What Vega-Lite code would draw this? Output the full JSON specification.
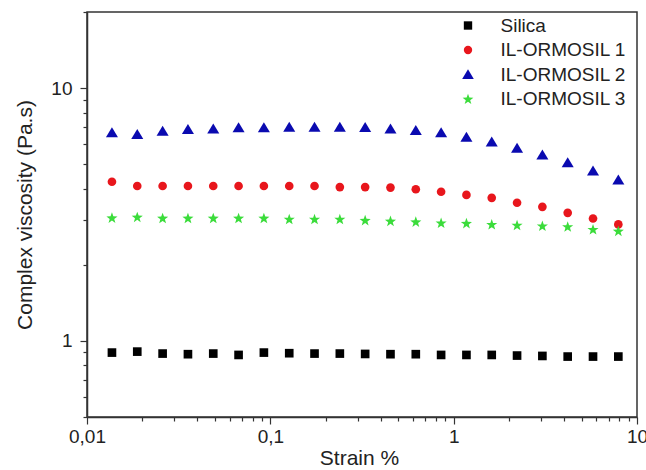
{
  "$schema": "https://vega.github.io/schema/vega-lite/v6.json",
  "width": 550,
  "height": 405,
  "autosize": {"type": "none"},
  "padding": {"left": 87, "top": 12, "right": 9, "bottom": 53},
  "background": "white",
  "config": {
    "font": "Liberation Sans",
    "view": {"stroke": "#333", "strokeWidth": 1.5},
    "axis": {
      "domainColor": "#333", "domainWidth": 1.5,
      "tickColor": "#333", "tickWidth": 1.2,
      "labelFont": "Liberation Sans", "labelFontSize": 19, "labelColor": "#222",
      "titleFont": "Liberation Sans", "titleFontSize": 21, "titleFontWeight": "normal", "titleColor": "#222",
      "grid": false
    }
  },
  "data": {"values": [
    {"strain": 0.01368, "viscosity": 0.899, "sample": "Silica"},
    {"strain": 0.0188, "viscosity": 0.907, "sample": "Silica"},
    {"strain": 0.02585, "viscosity": 0.891, "sample": "Silica"},
    {"strain": 0.03553, "viscosity": 0.886, "sample": "Silica"},
    {"strain": 0.04883, "viscosity": 0.891, "sample": "Silica"},
    {"strain": 0.06711, "viscosity": 0.880, "sample": "Silica"},
    {"strain": 0.09222, "viscosity": 0.899, "sample": "Silica"},
    {"strain": 0.1268, "viscosity": 0.894, "sample": "Silica"},
    {"strain": 0.1742, "viscosity": 0.891, "sample": "Silica"},
    {"strain": 0.2394, "viscosity": 0.891, "sample": "Silica"},
    {"strain": 0.329, "viscosity": 0.888, "sample": "Silica"},
    {"strain": 0.4522, "viscosity": 0.886, "sample": "Silica"},
    {"strain": 0.6215, "viscosity": 0.886, "sample": "Silica"},
    {"strain": 0.8541, "viscosity": 0.880, "sample": "Silica"},
    {"strain": 1.174, "viscosity": 0.880, "sample": "Silica"},
    {"strain": 1.613, "viscosity": 0.880, "sample": "Silica"},
    {"strain": 2.217, "viscosity": 0.875, "sample": "Silica"},
    {"strain": 3.047, "viscosity": 0.872, "sample": "Silica"},
    {"strain": 4.188, "viscosity": 0.867, "sample": "Silica"},
    {"strain": 5.756, "viscosity": 0.867, "sample": "Silica"},
    {"strain": 7.91, "viscosity": 0.867, "sample": "Silica"},
    {"strain": 0.01368, "viscosity": 4.26, "sample": "IL-ORMOSIL 1"},
    {"strain": 0.0188, "viscosity": 4.10, "sample": "IL-ORMOSIL 1"},
    {"strain": 0.02585, "viscosity": 4.10, "sample": "IL-ORMOSIL 1"},
    {"strain": 0.03553, "viscosity": 4.10, "sample": "IL-ORMOSIL 1"},
    {"strain": 0.04883, "viscosity": 4.10, "sample": "IL-ORMOSIL 1"},
    {"strain": 0.06711, "viscosity": 4.10, "sample": "IL-ORMOSIL 1"},
    {"strain": 0.09222, "viscosity": 4.10, "sample": "IL-ORMOSIL 1"},
    {"strain": 0.1268, "viscosity": 4.10, "sample": "IL-ORMOSIL 1"},
    {"strain": 0.1742, "viscosity": 4.10, "sample": "IL-ORMOSIL 1"},
    {"strain": 0.2394, "viscosity": 4.06, "sample": "IL-ORMOSIL 1"},
    {"strain": 0.329, "viscosity": 4.06, "sample": "IL-ORMOSIL 1"},
    {"strain": 0.4522, "viscosity": 4.04, "sample": "IL-ORMOSIL 1"},
    {"strain": 0.6215, "viscosity": 3.98, "sample": "IL-ORMOSIL 1"},
    {"strain": 0.8541, "viscosity": 3.89, "sample": "IL-ORMOSIL 1"},
    {"strain": 1.174, "viscosity": 3.78, "sample": "IL-ORMOSIL 1"},
    {"strain": 1.613, "viscosity": 3.68, "sample": "IL-ORMOSIL 1"},
    {"strain": 2.217, "viscosity": 3.52, "sample": "IL-ORMOSIL 1"},
    {"strain": 3.047, "viscosity": 3.39, "sample": "IL-ORMOSIL 1"},
    {"strain": 4.188, "viscosity": 3.21, "sample": "IL-ORMOSIL 1"},
    {"strain": 5.756, "viscosity": 3.05, "sample": "IL-ORMOSIL 1"},
    {"strain": 7.91, "viscosity": 2.89, "sample": "IL-ORMOSIL 1"},
    {"strain": 0.01368, "viscosity": 6.66, "sample": "IL-ORMOSIL 2"},
    {"strain": 0.0188, "viscosity": 6.56, "sample": "IL-ORMOSIL 2"},
    {"strain": 0.02585, "viscosity": 6.76, "sample": "IL-ORMOSIL 2"},
    {"strain": 0.03553, "viscosity": 6.87, "sample": "IL-ORMOSIL 2"},
    {"strain": 0.04883, "viscosity": 6.90, "sample": "IL-ORMOSIL 2"},
    {"strain": 0.06711, "viscosity": 6.97, "sample": "IL-ORMOSIL 2"},
    {"strain": 0.09222, "viscosity": 6.97, "sample": "IL-ORMOSIL 2"},
    {"strain": 0.1268, "viscosity": 7.01, "sample": "IL-ORMOSIL 2"},
    {"strain": 0.1742, "viscosity": 7.01, "sample": "IL-ORMOSIL 2"},
    {"strain": 0.2394, "viscosity": 7.01, "sample": "IL-ORMOSIL 2"},
    {"strain": 0.329, "viscosity": 6.99, "sample": "IL-ORMOSIL 2"},
    {"strain": 0.4522, "viscosity": 6.90, "sample": "IL-ORMOSIL 2"},
    {"strain": 0.6215, "viscosity": 6.80, "sample": "IL-ORMOSIL 2"},
    {"strain": 0.8541, "viscosity": 6.66, "sample": "IL-ORMOSIL 2"},
    {"strain": 1.174, "viscosity": 6.40, "sample": "IL-ORMOSIL 2"},
    {"strain": 1.613, "viscosity": 6.13, "sample": "IL-ORMOSIL 2"},
    {"strain": 2.217, "viscosity": 5.78, "sample": "IL-ORMOSIL 2"},
    {"strain": 3.047, "viscosity": 5.44, "sample": "IL-ORMOSIL 2"},
    {"strain": 4.188, "viscosity": 5.07, "sample": "IL-ORMOSIL 2"},
    {"strain": 5.756, "viscosity": 4.70, "sample": "IL-ORMOSIL 2"},
    {"strain": 7.91, "viscosity": 4.33, "sample": "IL-ORMOSIL 2"},
    {"strain": 0.01368, "viscosity": 3.07, "sample": "IL-ORMOSIL 3"},
    {"strain": 0.0188, "viscosity": 3.09, "sample": "IL-ORMOSIL 3"},
    {"strain": 0.02585, "viscosity": 3.06, "sample": "IL-ORMOSIL 3"},
    {"strain": 0.03553, "viscosity": 3.06, "sample": "IL-ORMOSIL 3"},
    {"strain": 0.04883, "viscosity": 3.06, "sample": "IL-ORMOSIL 3"},
    {"strain": 0.06711, "viscosity": 3.06, "sample": "IL-ORMOSIL 3"},
    {"strain": 0.09222, "viscosity": 3.06, "sample": "IL-ORMOSIL 3"},
    {"strain": 0.1268, "viscosity": 3.03, "sample": "IL-ORMOSIL 3"},
    {"strain": 0.1742, "viscosity": 3.03, "sample": "IL-ORMOSIL 3"},
    {"strain": 0.2394, "viscosity": 3.03, "sample": "IL-ORMOSIL 3"},
    {"strain": 0.329, "viscosity": 3.00, "sample": "IL-ORMOSIL 3"},
    {"strain": 0.4522, "viscosity": 2.98, "sample": "IL-ORMOSIL 3"},
    {"strain": 0.6215, "viscosity": 2.96, "sample": "IL-ORMOSIL 3"},
    {"strain": 0.8541, "viscosity": 2.93, "sample": "IL-ORMOSIL 3"},
    {"strain": 1.174, "viscosity": 2.92, "sample": "IL-ORMOSIL 3"},
    {"strain": 1.613, "viscosity": 2.89, "sample": "IL-ORMOSIL 3"},
    {"strain": 2.217, "viscosity": 2.87, "sample": "IL-ORMOSIL 3"},
    {"strain": 3.047, "viscosity": 2.85, "sample": "IL-ORMOSIL 3"},
    {"strain": 4.188, "viscosity": 2.83, "sample": "IL-ORMOSIL 3"},
    {"strain": 5.756, "viscosity": 2.76, "sample": "IL-ORMOSIL 3"},
    {"strain": 7.91, "viscosity": 2.72, "sample": "IL-ORMOSIL 3"}
  ]},
  "mark": {"type": "point", "filled": true, "opacity": 1, "size": 75},
  "encoding": {
    "x": {
      "field": "strain", "type": "quantitative",
      "scale": {"type": "log", "domain": [0.01, 10], "nice": false},
      "axis": {
        "title": "Strain %",
        "values": [0.01,0.02,0.03,0.04,0.05,0.06,0.07,0.08,0.09,0.1,0.2,0.3,0.4,0.5,0.6,0.7,0.8,0.9,1,2,3,4,5,6,7,8,9,10],
        "labelExpr": "indexof([0.01,0.1,1,10], datum.value) >= 0 ? replace(toString(datum.value), '.', ',') : ''",
        "tickSize": {"condition": {"test": "indexof([0.01,0.1,1,10], datum.value) >= 0", "value": 7}, "value": 4},
        "labelPadding": 3,
        "labelFlush": false,
        "labelOverlap": false,
        "titleX": 272, "titleY": 41, "titleBaseline": "middle", "titleAlign": "center"
      }
    },
    "y": {
      "field": "viscosity", "type": "quantitative",
      "scale": {"type": "log", "domain": [0.5, 20], "nice": false},
      "axis": {
        "title": "Complex viscosity (Pa.s)",
        "values": [0.5,0.6,0.7,0.8,0.9,1,2,3,4,5,6,7,8,9,10,20],
        "labelExpr": "indexof([1,10], datum.value) >= 0 ? toString(datum.value) : ''",
        "tickSize": {"condition": {"test": "indexof([1,10], datum.value) >= 0", "value": 7}, "value": 4},
        "labelPadding": 8,
        "labelOverlap": false,
        "titleX": -62, "titleY": 202.5, "titleBaseline": "middle", "titleAlign": "center", "titleAngle": -90
      }
    },
    "color": {
      "field": "sample", "type": "nominal",
      "scale": {"domain": ["Silica", "IL-ORMOSIL 1", "IL-ORMOSIL 2", "IL-ORMOSIL 3"], "range": ["#000000", "#e8161c", "#0a0ab0", "#3bdc3b"]},
      "legend": {
        "orient": "none", "legendX": 371.5, "legendY": 4, "title": null,
        "labelFontSize": 19, "labelFont": "Liberation Sans", "labelColor": "#222",
        "symbolSize": 70, "labelOffset": 23, "rowPadding": 4.5, "padding": 0
      }
    },
    "shape": {
      "field": "sample", "type": "nominal",
      "scale": {"domain": ["Silica", "IL-ORMOSIL 1", "IL-ORMOSIL 2", "IL-ORMOSIL 3"], "range": ["square", "circle", "M0,-1.25L1.39,1.06L-1.39,1.06Z", "M0,-1.25L0.323,-0.345L1.284,-0.317L0.523,0.27L0.794,1.192L0,0.65L-0.794,1.192L-0.523,0.27L-1.284,-0.317L-0.323,-0.345Z"]}
    }
  }
}
